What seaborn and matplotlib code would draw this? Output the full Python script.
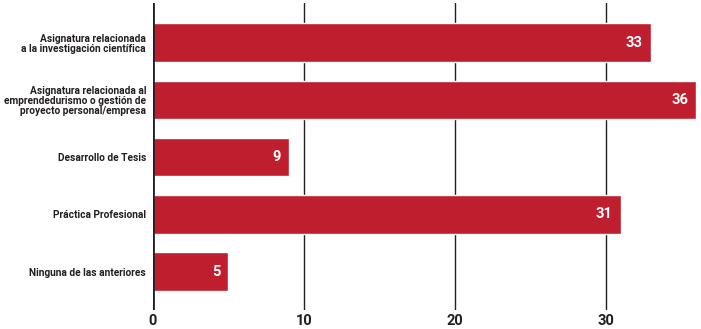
import seaborn as sns
import pandas as pd
import matplotlib.pyplot as plt

categorias = [
    "Asignatura relacionada\na la investigación científica",
    "Asignatura relacionada al\nemprendedurismo o gestión de\nproyecto personal/empresa",
    "Desarrollo de Tesis",
    "Práctica Profesional",
    "Ninguna de las anteriores",
]
valores = [33, 36, 9, 31, 5]
ticks_x = [0, 10, 20, 30]

df = pd.DataFrame({"categoria": categorias, "valor": valores})

sns.set_style("white")
plt.rcParams['font.family'] = ['Roboto', 'DejaVu Sans']

fig = plt.figure(figsize=(7.01, 3.29), dpi=100)
ax = fig.add_axes([153 / 701, 19 / 329, 1 - 153 / 701, 307 / 329])

sns.barplot(data=df, x="valor", y="categoria", color="#BE1E2D", saturation=1,
            width=0.67, ax=ax, zorder=3)

for i, v in enumerate(valores):
    ax.text(v - 0.55, i, str(v), ha="right", va="center", color="white",
            fontsize=10.5, fontweight="bold", zorder=4)

ax.set_xlim(0, 36.3)
ax.set_ylim(4.67, -0.69)
ax.set_xticks(ticks_x)
for t in ticks_x[1:]:
    ax.axvline(t, color="#231F20", lw=1, zorder=1)
ax.axvline(0, color="#231F20", lw=2, zorder=5)

for s in ax.spines.values():
    s.set_visible(False)
ax.tick_params(axis="both", length=0)
ax.tick_params(axis="x", pad=3, labelsize=10.5, labelcolor="#231F20")
ax.tick_params(axis="y", pad=5, labelsize=7.3, labelcolor="#231F20")
for lbl in ax.get_xticklabels():
    lbl.set_fontweight("bold")
for lbl in ax.get_yticklabels():
    lbl.set_fontweight("bold")
    lbl.set_linespacing(1.05)
ax.set_xlabel("")
ax.set_ylabel("")

fig.savefig("out.png", dpi=100)
